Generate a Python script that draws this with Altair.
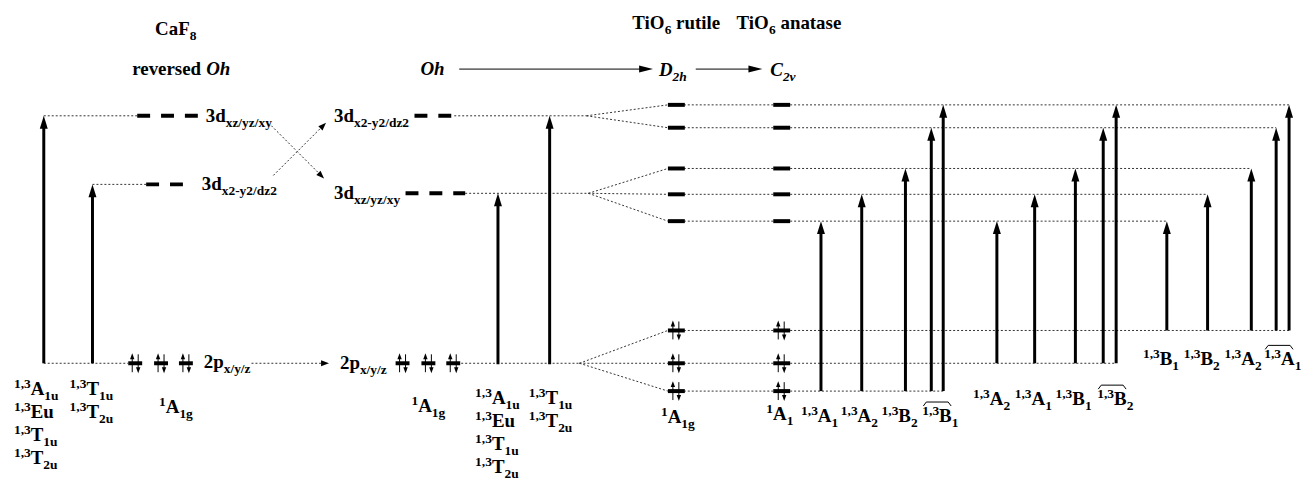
import altair as alt
import pandas as pd

# ---------------- data (diagram units: x across, y = energy drawn downward) ----------------
p_level = 364                       # 2p ligand level (CaF8 and Oh)
caf8_arrow_x = [44, 93]
caf8_d_levels = [115, 184]          # 3d xz/yz/xy , 3d x2-y2/dz2 (reversed Oh)
caf8_pairs_x = [136, 162, 187]

oh_arrow_x = [501, 553]
oh_d_levels = [193, 115]            # 3d xz/yz/xy , 3d x2-y2/dz2 (Oh)
oh_pairs_x = [405, 431, 456]

d2h_x, c2v_x = 680, 786
split_x2 = [104, 127]               # D2h / C2v split of 3d x2-y2/dz2
split_xz = [168, 194, 221]          # D2h / C2v split of 3d xz/yz/xy
split_p = [331, 364, 392]           # D2h / C2v split of 2p

grp_base = [392, 364, 331]
grp_arrow_top = [221, 194, 168, 127, 104]
grp_arrow_x = [[826, 867, 911, 937, 949],
               [1003, 1041, 1082, 1110, 1123],
               [1174, 1215, 1259, 1284, 1297]]
grp_labels = [[("1,3", "A", "1"), ("1,3", "A", "2"), ("1,3", "B", "2"), ("1,3", "B", "1")],
              [("1,3", "A", "2"), ("1,3", "A", "1"), ("1,3", "B", "1"), ("1,3", "B", "2")],
              [("1,3", "B", "1"), ("1,3", "B", "2"), ("1,3", "A", "2"), ("1,3", "A", "1")]]
u_states_1 = [("1,3", "A", "1u"), ("1,3", "Eu", ""), ("1,3", "T", "1u"), ("1,3", "T", "2u")]
u_states_2 = [("1,3", "T", "1u"), ("1,3", "T", "2u")]
ground_states = [("1", "A", "1g"), ("1", "A", "1g"), ("1", "A", "1g"), ("1", "A", "1")]

# ---------------- layout ----------------
W, H = 1301, 474
X0, Y0 = 8, 8
grp_label_x = [[806, 846, 887, 928], [979, 1021, 1062, 1104], [1150, 1191, 1232, 1272]]
grp_label_bl = [423, 406, 366]

TB = {' ': 250, ',': 250, '-': 333, '/': 278, 'A': 722, 'B': 667, 'C': 722, 'D': 722, 'E': 667,
      'F': 611, 'O': 778, 'T': 667, 'a': 500, 'd': 556, 'e': 444, 'g': 500, 'h': 556, 'i': 278,
      'l': 278, 'n': 556, 'p': 556, 'r': 444, 's': 389, 't': 333, 'u': 556, 'v': 500, 'x': 500,
      'y': 500, 'z': 444}
TBI = {'O': 722, 'h': 556, 'D': 722, 'C': 667, 'v': 444}
BIG, SMALL = 19, 13.5
DY = {'b': 0, 'i': 0, 'sup': -7, 'sub': 5, 'isub': 5}

texts = []


def compose(x, bl, segs):
    cx = x
    for kind, txt in segs:
        if not txt:
            continue
        size = BIG if kind in ('b', 'i') else SMALL
        tab = TBI if kind.startswith('i') else TB
        lead = len(txt) - len(txt.lstrip(' '))
        cx += lead * tab.get(' ', 250) * size / 1000.0
        txt = txt.lstrip(' ')
        texts.append(dict(x=cx, y=bl + DY[kind], t=txt, size=size,
                          style='italic' if kind.startswith('i') else 'normal'))
        cx += sum(tab.get(c, 500) for c in txt) * size / 1000.0


def state(x, bl, s):
    compose(x, bl, [('sup', s[0]), ('b', s[1]), ('sub', s[2])])


# titles
compose(156, 34, [('b', 'CaF'), ('sub', '8')])
compose(133, 74, [('b', 'reversed '), ('i', 'Oh')])
compose(636, 28, [('b', 'TiO'), ('sub', '6'), ('b', ' rutile')])
compose(741, 28, [('b', 'TiO'), ('sub', '6'), ('b', ' anatase')])
compose(423, 74, [('i', 'Oh')])
compose(663, 75, [('i', 'D'), ('isub', '2h')])
compose(775, 75, [('i', 'C'), ('isub', '2v')])
# orbital labels
compose(207, 121, [('b', '3d'), ('sub', 'xz/yz/xy')])
compose(203, 190, [('b', '3d'), ('sub', 'x2-y2/dz2')])
compose(205, 369, [('b', '2p'), ('sub', 'x/y/z')])
compose(336, 121, [('b', '3d'), ('sub', 'x2-y2/dz2')])
compose(336, 199, [('b', '3d'), ('sub', 'xz/yz/xy')])
compose(342, 370, [('b', '2p'), ('sub', 'x/y/z')])
# state labels
for i, s in enumerate(u_states_1):
    state(14, 396 + 23 * i, s)
    state(478, 405 + 23 * i, s)
for i, s in enumerate(u_states_2):
    state(70, 396 + 23 * i, s)
    state(532, 405 + 23 * i, s)
for (x, bl), s in zip([(160, 414), (414, 413), (665, 424), (771, 421)], ground_states):
    state(x, bl, s)
for g in range(3):
    for lx, s in zip(grp_label_x[g], grp_labels[g]):
        state(lx, grp_label_bl[g], s)

text_df = pd.DataFrame(texts)

# dotted connectors
dots = []


def dot(x1, y1, x2, y2):
    dots.append(dict(x=x1, y=y1, x2=x2, y2=y2))


dot(caf8_arrow_x[0], caf8_d_levels[0], 138, caf8_d_levels[0])
dot(caf8_arrow_x[1], caf8_d_levels[1], 147, caf8_d_levels[1])
dot(caf8_arrow_x[0], p_level, caf8_pairs_x[0] - 7, p_level)
dot(273, 125, 323, 175)
dot(275, 175, 325, 125)
dot(253, p_level, 326, p_level)
dot(457, oh_d_levels[1], 590, oh_d_levels[1])
dot(468, oh_d_levels[0], 592, oh_d_levels[0])
dot(oh_pairs_x[-1] + 8, p_level, 583, p_level)
for y in split_x2:
    dot(590, oh_d_levels[1], d2h_x - 8, y)
for y in split_xz:
    dot(592, oh_d_levels[0], d2h_x - 8, y)
for y in split_p:
    dot(583, p_level, d2h_x - 8, y)
upper = sorted(split_x2 + split_xz, reverse=True)   # 221,194,168,127,104
for y in upper + split_p:
    dot(d2h_x + 8, y, c2v_x - 8, y)
for k, y in enumerate(grp_arrow_top):
    dot(c2v_x + 9, y, grp_arrow_x[2][k], y)
for g, y in enumerate(grp_base):
    dot(c2v_x + 9, y, grp_arrow_x[g][-1], y)
dots_df = pd.DataFrame(dots)

# dashed thick levels
dash_df = pd.DataFrame([
    dict(x=138, x2=200, y=caf8_d_levels[0]), dict(x=147, x2=190, y=caf8_d_levels[1]),
    dict(x=408, x2=468, y=oh_d_levels[0]), dict(x=417, x2=457, y=oh_d_levels[1])])

# solid short bars
bars = []
for cx in (d2h_x, c2v_x):
    for y in upper:
        bars.append(dict(x=cx - 8, x2=cx + 9, y=y))
    for y in split_p:
        bars.append(dict(x=cx - 8, x2=cx + 9, y=y))
for cx in caf8_pairs_x + oh_pairs_x:
    bars.append(dict(x=cx - 7, x2=cx + 7, y=p_level))
bars_df = pd.DataFrame(bars)

# transition arrows
shafts, heads = [], []
UP = "M0,0L4,13L-4,13Z"
for x, top in zip(caf8_arrow_x, caf8_d_levels):
    shafts.append(dict(x=x, y=p_level, y2=top + 11))
    heads.append(dict(x=x, y=top, shape=UP, angle=0))
for x, top in zip(oh_arrow_x, oh_d_levels):
    shafts.append(dict(x=x, y=p_level + 1, y2=top + 11))
    heads.append(dict(x=x, y=top, shape=UP, angle=0))
for g in range(3):
    for x, top in zip(grp_arrow_x[g], grp_arrow_top):
        shafts.append(dict(x=x, y=grp_base[g], y2=top + 11))
        heads.append(dict(x=x, y=top, shape=UP, angle=0))
shafts_df = pd.DataFrame(shafts)

# electron pairs
e_lines = []
EU = "M0,0L2.2,6L-2.2,6Z"
ED = "M0,0L2.2,-6L-2.2,-6Z"
pairs = [(x, p_level) for x in caf8_pairs_x + oh_pairs_x] + \
        [(cx, y) for cx in (d2h_x, c2v_x) for y in split_p]
for cx, y in pairs:
    e_lines.append(dict(x=cx - 3, y=y + 9, y2=y - 6))
    e_lines.append(dict(x=cx + 3, y=y - 9, y2=y + 6))
    heads.append(dict(x=cx - 3, y=y - 10, shape=EU, angle=0))
    heads.append(dict(x=cx + 3, y=y + 10, shape=ED, angle=0))
e_df = pd.DataFrame(e_lines)

# thin solid arrows in symmetry line, arrowheads of dotted arrows
RIGHT_LONG = "M0,0L-14,-3.5L-14,3.5Z"
RIGHT_SMALL = "M0,0L-8,-3L-8,3Z"
thin_df = pd.DataFrame([dict(x=462, x2=645, y=68), dict(x=700, x2=755, y=68)])
heads.append(dict(x=657, y=68, shape=RIGHT_LONG, angle=0))
heads.append(dict(x=767, y=68, shape=RIGHT_LONG, angle=0))
heads.append(dict(x=326, y=178, shape=RIGHT_SMALL, angle=45))
heads.append(dict(x=328, y=122, shape=RIGHT_SMALL, angle=315))
heads.append(dict(x=331, y=p_level, shape=RIGHT_SMALL, angle=0))
heads_df = pd.DataFrame(heads)

# over-braces
braces = []
for g in range(3):
    x0 = grp_label_x[g][3] + 1
    x1 = x0 + 28
    yb = grp_label_bl[g] - 20
    pts = [(x0, yb + 4), (x0 + 3, yb), (x1 - 3, yb), (x1, yb + 4)]
    for i, (px, py) in enumerate(pts):
        braces.append(dict(g=g, o=i, x=px, y=py))
brace_df = pd.DataFrame(braces)

# ---------------- chart ----------------
xs = alt.Scale(domain=[X0, X0 + W], nice=False, zero=False)
ys = alt.Scale(domain=[Y0, Y0 + H], nice=False, zero=False, reverse=True)
X = lambda f='x': alt.X(f + ':Q', scale=xs, axis=None)
Y = lambda f='y': alt.Y(f + ':Q', scale=ys, axis=None)

dotted = alt.Chart(dots_df).mark_rule(color='#333', strokeWidth=1, strokeDash=[2, 2]).encode(
    x=X(), y=Y(), x2='x2:Q', y2='y2:Q')
dashed = alt.Chart(dash_df).mark_rule(color='black', strokeWidth=4, strokeDash=[13, 11]).encode(
    x=X(), x2='x2:Q', y=Y())
barsl = alt.Chart(bars_df).mark_rule(color='black', strokeWidth=4).encode(
    x=X(), x2='x2:Q', y=Y())
shaftl = alt.Chart(shafts_df).mark_rule(color='black', strokeWidth=3).encode(
    x=X(), y=Y(), y2='y2:Q')
el = alt.Chart(e_df).mark_rule(color='black', strokeWidth=1).encode(
    x=X(), y=Y(), y2='y2:Q')
thin = alt.Chart(thin_df).mark_rule(color='black', strokeWidth=1).encode(
    x=X(), x2='x2:Q', y=Y())
headl = alt.Chart(heads_df).mark_point(filled=True, opacity=1, color='black', strokeWidth=0).encode(
    x=X(), y=Y(), shape=alt.Shape('shape:N', scale=None),
    angle=alt.Angle('angle:Q', scale=None), size=alt.value(4))
bracel = alt.Chart(brace_df).mark_line(color='black', strokeWidth=1).encode(
    x=X(), y=Y(), detail='g:N', order='o:Q')

txt_n = alt.Chart(text_df[text_df['style'] == 'normal']).mark_text(
    align='left', baseline='alphabetic', font='Liberation Serif', fontWeight='bold',
    color='black').encode(x=X(), y=Y(), text='t:N', size=alt.Size('size:Q', scale=None))
txt_i = alt.Chart(text_df[text_df['style'] == 'italic']).mark_text(
    align='left', baseline='alphabetic', font='Liberation Serif', fontWeight='bold',
    fontStyle='italic', color='black').encode(
    x=X(), y=Y(), text='t:N', size=alt.Size('size:Q', scale=None))

chart = alt.layer(dotted, dashed, barsl, shaftl, el, thin, headl, bracel, txt_n, txt_i).properties(
    width=W, height=H, padding=0, autosize=alt.AutoSizeParams(type='none'),
    background='white').configure_view(stroke=None)

chart.save("out.html", embed_options={"renderer": "svg", "actions": False})
